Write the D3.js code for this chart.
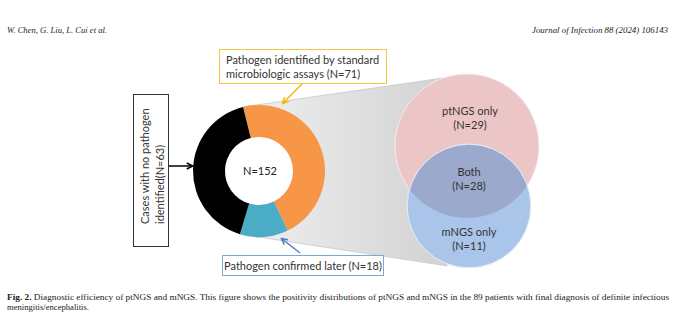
<!DOCTYPE html>
<html><head><meta charset="utf-8">
<script src="https://cdn.jsdelivr.net/npm/d3@7"></script>
<style>body{margin:0;background:#fff}svg{display:block}</style>
</head><body>
<svg id="c" width="680" height="327"></svg>
<script>
const donutLabels = ["Pathogen identified by standard microbiologic assays", "Pathogen confirmed later", "Cases with no pathogen identified"];
const donutValues = [71, 18, 63];
const donutTotal = 152;
const vennLabels = ["ptNGS only", "Both", "mNGS only"];
const vennValues = [29, 28, 11];
const headerLeft = "W. Chen, G. Liu, L. Cui et al.";
const headerRight = "Journal of Infection 88 (2024) 106143";
const captionBold = "Fig. 2.";
const captionLine1 = "Diagnostic efficiency of ptNGS and mNGS. This figure shows the positivity distributions of ptNGS and mNGS in the 89 patients with final diagnosis of definite infectious";
const captionLine2 = "meningitis/encephalitis.";

const svg = d3.select("#c");
const defs = svg.append("defs");
const font = "Lato, 'Open Sans', sans-serif";
const fs = 11;

// header
svg.append("text").attr("x", 7).attr("y", 33).attr("font-family", "'Liberation Serif', serif")
  .attr("font-style", "italic").attr("font-size", 9).attr("fill", "#222")
  .attr("textLength", 100).attr("lengthAdjust", "spacingAndGlyphs").text(headerLeft);
svg.append("text").attr("x", 668).attr("y", 33).attr("text-anchor", "end").attr("font-family", "'Liberation Serif', serif")
  .attr("font-style", "italic").attr("font-size", 9).attr("fill", "#222")
  .attr("textLength", 136).attr("lengthAdjust", "spacingAndGlyphs").text(headerRight);

// geometry
const cx = 259, cy = 171, rOut = 66, rIn = 34;
const startA = -14 * Math.PI / 180;
const pie = d3.pie().sort(null).startAngle(startA).endAngle(startA + 2 * Math.PI);
const arcs = pie(donutValues);
const colors = ["#f79646", "#4bacc6", "#000000"];

// venn
const rScale = d3.scalePow().exponent(0.4).domain([0, vennValues[0] + vennValues[1]]).range([0, 72]);
const rPink = rScale(vennValues[0] + vennValues[1]);
const rBlue = rScale(vennValues[1] + vennValues[2]);
const pinkC = [467, 146], blueC = [469, 206];

// gray trapezoid
const grad = defs.append("linearGradient").attr("id", "g").attr("x1", 0).attr("x2", 1).attr("y1", 0).attr("y2", 0);
grad.append("stop").attr("offset", "0%").attr("stop-color", "#f0f0f0");
grad.append("stop").attr("offset", "100%").attr("stop-color", "#d2d2d2");
const topPt = [cx + rOut * Math.sin(startA), cy - rOut * Math.cos(startA)];
const botA = arcs[1].endAngle;
const botPt = [cx + rOut * Math.sin(botA), cy - rOut * Math.cos(botA)];
svg.append("path")
  .attr("d", d3.line()([topPt, [pinkC[0] - 24, pinkC[1] - rPink + 4], [blueC[0] - 22, blueC[1] + rBlue - 2], botPt]) + "Z")
  .attr("fill", "url(#g)").attr("stroke", "#c8c8c8").attr("stroke-width", 0.8);

// donut
const arc = d3.arc().innerRadius(rIn).outerRadius(rOut);
const dg = svg.append("g").attr("transform", `translate(${cx},${cy})`);
dg.append("circle").attr("r", rIn).attr("fill", "#fff");
dg.selectAll("path").data(arcs).join("path")
  .attr("d", arc).attr("fill", (d, i) => colors[i]);
svg.append("text").attr("x", cx + 1).attr("y", cy + 4).attr("text-anchor", "middle")
  .attr("font-family", font).attr("font-size", fs).attr("fill", "#222").text("N=" + donutTotal);

// venn circles
defs.append("clipPath").attr("id", "pc").append("circle").attr("cx", pinkC[0]).attr("cy", pinkC[1]).attr("r", rPink);
svg.append("circle").attr("cx", pinkC[0]).attr("cy", pinkC[1]).attr("r", rPink).attr("fill", "#ecc6c7").attr("stroke", "#f6eaea").attr("stroke-width", 1);
svg.append("circle").attr("cx", blueC[0]).attr("cy", blueC[1]).attr("r", rBlue).attr("fill", "#a9c5ea").attr("stroke", "#e6eef8").attr("stroke-width", 1);
svg.append("circle").attr("cx", blueC[0]).attr("cy", blueC[1]).attr("r", rBlue).attr("fill", "#9ba9cd").attr("clip-path", "url(#pc)").attr("stroke", "#e6eef8").attr("stroke-width", 1);

const vennPos = [[470, 115], [469, 176], [469, 236]];
vennLabels.forEach((l, i) => {
  const t = svg.append("text").attr("text-anchor", "middle").attr("font-family", font).attr("font-size", fs).attr("fill", "#333");
  t.append("tspan").attr("x", vennPos[i][0]).attr("y", vennPos[i][1]).text(l);
  t.append("tspan").attr("x", vennPos[i][0]).attr("y", vennPos[i][1] + 14).text("(N=" + vennValues[i] + ")");
});

// arrow markers
function marker(id, color) {
  defs.append("marker").attr("id", id).attr("viewBox", "0 0 10 10").attr("refX", 8).attr("refY", 5)
    .attr("markerWidth", 5).attr("markerHeight", 5).attr("orient", "auto")
    .append("path").attr("d", "M1,1 L9,5 L1,9").attr("fill", "none").attr("stroke", color).attr("stroke-width", 2);
}
marker("mk", "#000"); marker("my", "#f5b700"); marker("mb", "#4f81bd");

// yellow box
svg.append("rect").attr("x", 219.5).attr("y", 49.5).attr("width", 167).attr("height", 34).attr("fill", "#fff").attr("stroke", "#f5c542").attr("stroke-width", 1);
const yt = svg.append("text").attr("font-family", font).attr("font-size", fs).attr("fill", "#333");
yt.append("tspan").attr("x", 226).attr("y", 64).text("Pathogen identified by standard");
yt.append("tspan").attr("x", 226).attr("y", 78).text("microbiologic assays (N=" + donutValues[0] + ")");
svg.append("line").attr("x1", 302).attr("y1", 84).attr("x2", 283).attr("y2", 103).attr("stroke", "#f5b700").attr("stroke-width", 1.5).attr("marker-end", "url(#my)");

// blue box
svg.append("rect").attr("x", 222.5).attr("y", 255.5).attr("width", 161).attr("height", 20).attr("fill", "#fff").attr("stroke", "#7fa6d6").attr("stroke-width", 1);
svg.append("text").attr("x", 303).attr("y", 269.5).attr("text-anchor", "middle").attr("font-family", font).attr("font-size", fs).attr("fill", "#333")
  .text("Pathogen confirmed later (N=" + donutValues[1] + ")");
svg.append("line").attr("x1", 300).attr("y1", 253).attr("x2", 282).attr("y2", 239).attr("stroke", "#4f81bd").attr("stroke-width", 1.5).attr("marker-end", "url(#mb)");

// left box
svg.append("rect").attr("x", 133.5).attr("y", 94.5).attr("width", 35).attr("height", 152).attr("fill", "#fff").attr("stroke", "#333").attr("stroke-width", 1);
const lt = svg.append("text").attr("transform", "rotate(-90)").attr("font-family", font).attr("font-size", fs).attr("fill", "#333");
lt.append("tspan").attr("x", -224).attr("y", 149).text("Cases with no pathogen");
lt.append("tspan").attr("x", -224).attr("y", 164).text("identified(N=" + donutValues[2] + ")");
svg.append("line").attr("x1", 169).attr("y1", 166).attr("x2", 192).attr("y2", 166).attr("stroke", "#000").attr("stroke-width", 1.5).attr("marker-end", "url(#mk)");

// caption
const cap = svg.append("text").attr("x", 7).attr("y", 300).attr("font-family", "'Liberation Serif', serif").attr("font-size", 8.5).attr("fill", "#222")
  .attr("textLength", 662).attr("lengthAdjust", "spacingAndGlyphs");
cap.append("tspan").attr("font-weight", "bold").text(captionBold + " ");
cap.append("tspan").text(" " + captionLine1);
svg.append("text").attr("x", 7).attr("y", 310).attr("font-family", "'Liberation Serif', serif").attr("font-size", 8.5).attr("fill", "#222")
  .attr("textLength", 82).attr("lengthAdjust", "spacingAndGlyphs").text(captionLine2);
</script>
</body></html>
